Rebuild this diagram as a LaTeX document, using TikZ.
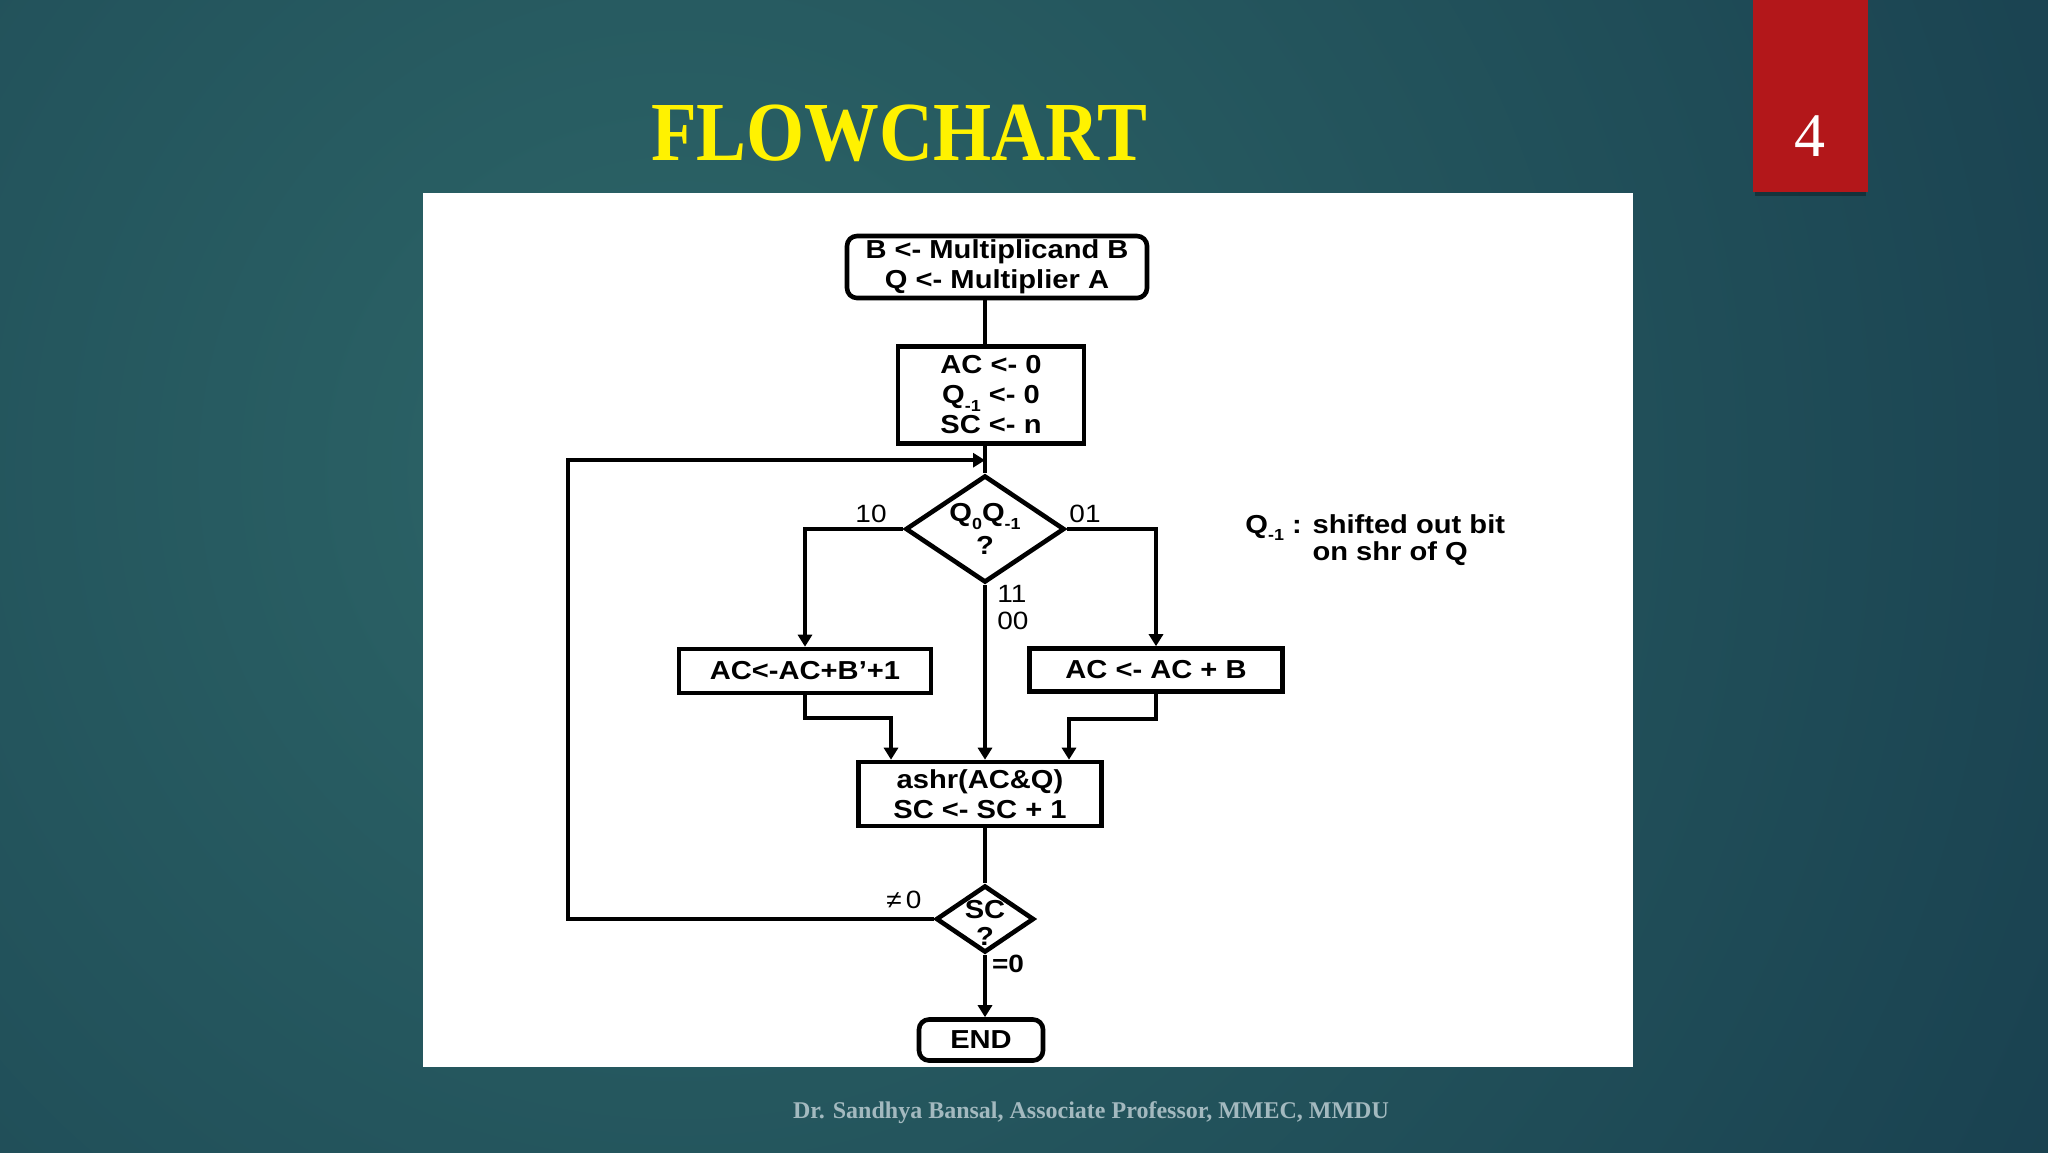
\documentclass[tikz,border=0pt]{standalone}
\usepackage{fontspec}
\setmainfont{Liberation Sans}[FakeStretch=1.12]
\newfontfamily\slidefont{Liberation Serif}
\usetikzlibrary{shapes.geometric,arrows.meta,calc}
\definecolor{bgin}{HTML}{2D6668}
\definecolor{bgout}{HTML}{163B4C}
\definecolor{tabred}{HTML}{B3171A}
\definecolor{footgray}{HTML}{A3B9BF}
\newcommand{\subidx}[1]{\raisebox{-0.55ex}{\fontsize{8}{8}\selectfont #1}}
\tikzset{
  flow/.style={draw=black,line width=2.3pt,fill=white,inner sep=0pt,align=center,
    font=\fontsize{13}{15}\selectfont\bfseries},
  flowr/.style={flow,rounded corners=5pt},
  test/.style={flow,diamond,aspect=1.5},
  wire/.style={line width=2pt},
  lbl/.style={inner sep=0pt,font=\fontsize{12.5}{13.5}\selectfont},
  lblb/.style={lbl,font=\fontsize{12.5}{13.5}\selectfont\bfseries},
}
\begin{document}
\begin{tikzpicture}[x=0.5pt,y=-0.5pt,>={Triangle[length=6pt,width=7pt]}]
  \useasboundingbox (0,0) rectangle (2048,1152);
  \begin{scope}
    \clip (0,0) rectangle (2048,1152);
    \fill[bgout] (0,0) rectangle (2048,1152);
    \shade[inner color=bgin,outer color=bgout] (680,470) circle (1800);
  \end{scope}
  \fill[black,opacity=0.3] (1755,192) rectangle (1866,196);
  \fill[tabred] (1753,0) rectangle (1868,192);
  \node[text=yellow,font=\slidefont\bfseries\fontsize{42}{50}\selectfont] (ttl) at (899,133) {\scalebox{0.89}[1]{FLOWCHART}};
  \node[text=white,font=\slidefont\fontsize{31}{36}\selectfont] (pnum) at (1810,136) {4};
  \node[text=footgray,font=\slidefont\bfseries\fontsize{12}{14}\selectfont] (credit) at (1091,1113) {Dr. Sandhya Bansal, Associate Professor, MMEC, MMDU};
  \fill[white] (423,193) rectangle (1633,1067);

  \node[flowr,minimum width=150pt,minimum height=31pt] (init) at (997,267) {B <- Multiplicand B\\Q <- Multiplier A};
  \node[flow,minimum width=93pt,minimum height=48.5pt] (setup) at (991,395) {AC <- 0\\Q\subidx{-1} <- 0\\SC <- n};
  \node[test,minimum width=79.5pt,minimum height=53.5pt,font=\fontsize{13}{16.5}\selectfont\bfseries] (cond) at (985,529) {Q\subidx{0}Q\subidx{-1}\\?};
  \node[flow,minimum width=126pt,minimum height=22pt] (sub) at (805,671) {AC<-AC+B’+1};
  \node[flow,minimum width=126.5pt,minimum height=21.5pt] (add) at (1156,670) {AC <- AC + B};
  \node[flow,minimum width=121.5pt,minimum height=32pt] (shift) at (980,794) {ashr(AC\&Q)\\SC <- SC + 1};
  \node[test,minimum width=49pt,minimum height=33.5pt] (cnt) at (985,919) {};
  \node[align=center,inner sep=0pt,font=\fontsize{13}{13.5}\selectfont\bfseries] (cnttext) at (985,923) {SC\\?};
  \node[flowr,minimum width=62pt,minimum height=20.5pt] (stop) at (981,1040) {END};
  \coordinate (back) at ($(cond.north)+(0,-13)$);

  \node[lbl] (l10) at (871,514) {10};
  \node[lbl] (l01) at (1085,514) {01};
  \node[lbl,align=left,anchor=west] (l11) at (997,608) {11\\00};
  \node[lbl] (lne) at (904,900) {≠\,0};
  \node[lblb] (leq) at (1008,964) {=0};
  \node[lblb,align=left,anchor=west,font=\fontsize{13}{13.5}\selectfont\bfseries] (qnote) at (1245,541) {Q\subidx{-1} : shifted out bit\\\phantom{Q\subidx{-1} : }on shr of Q};

  \draw[wire] (cond.north |- init.south) -- (cond.north |- setup.north);
  \draw[wire] (cond.north |- setup.south) -- (cond.north);
  \draw[wire,->] (cond.west) -| (sub.north);
  \draw[wire,->] (cond.east) -| (add.north);
  \draw[wire,->] (cond.south) -- (cond.south |- shift.north);
  \draw[wire,->] (sub.south) -- ++(0,23) -| ($(shift.north)+(-89,0)$);
  \draw[wire,->] (add.south) -- ++(0,25) -| ($(shift.north)+(89,0)$);
  \draw[wire] (cond.south |- shift.south) -- (cnt.north);
  \draw[wire,->] (cnt.west) -- ++(-366,0) |- (back);
  \draw[wire,->] (cnt.south) -- (cnt.south |- stop.north);
\end{tikzpicture}
\end{document}
